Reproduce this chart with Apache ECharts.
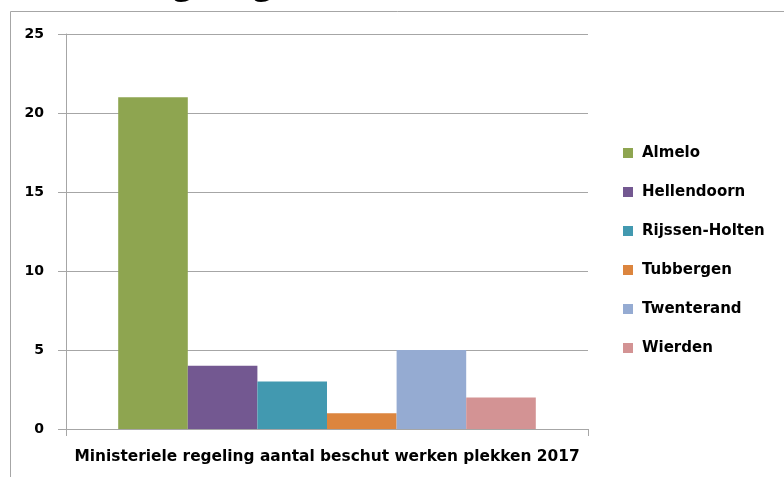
<!DOCTYPE html>
<html>
<head>
<meta charset="utf-8">
<script src="https://cdn.jsdelivr.net/npm/echarts@6/dist/echarts.min.js"></script>
<style>
  html, body { margin: 0; padding: 0; background: #fff; }
  #chart { width: 784px; height: 477px; }
</style>
</head>
<body>
<div id="chart"></div>
<script>
// --- data ---
const category = ['Ministeriele regeling aantal beschut werken plekken 2017'];
const gemeenten = ['Almelo', 'Hellendoorn', 'Rijssen-Holten', 'Tubbergen', 'Twenterand', 'Wierden'];
const plekken = [21, 4, 3, 1, 5, 2];
const kleuren = ['#8ea550', '#735891', '#4299b0', '#dc853e', '#95abd2', '#d39394'];

const gray = '#a6a6a6';

const chart = echarts.init(document.getElementById('chart'));

chart.setOption({
    animation: false,
    color: kleuren,
    grid: { left: 66, right: 196, top: 34, bottom: 48 },
    legend: {
        orient: 'vertical',
        left: 618,
        top: 138,
        itemWidth: 10,
        itemHeight: 10,
        itemGap: 19,
        icon: 'rect',
        data: gemeenten,
        textStyle: {
            fontFamily: 'DejaVu Sans', fontWeight: 'bold', fontSize: 15,
            color: '#000', lineHeight: 20, padding: [0, 0, 0, 4]
        }
    },
    xAxis: {
        type: 'category',
        data: category,
        axisLine: { lineStyle: { color: gray } },
        axisTick: { show: true, length: 7, lineStyle: { color: gray } },
        axisLabel: {
            margin: 20, color: '#000',
            fontFamily: 'DejaVu Sans', fontWeight: 'bold', fontSize: 15.4
        }
    },
    yAxis: {
        type: 'value',
        min: 0, max: 25, interval: 5,
        axisLine: { show: true, lineStyle: { color: gray } },
        axisTick: { show: true, length: 8, lineStyle: { color: gray } },
        splitLine: { lineStyle: { color: gray } },
        axisLabel: {
            margin: 22, color: '#000',
            fontFamily: 'DejaVu Sans', fontWeight: 'bold', fontSize: 14
        }
    },
    series: gemeenten.map((naam, i) => ({
        name: naam,
        type: 'bar',
        data: [plekken[i]],
        barGap: '0%',
        barCategoryGap: '20%'
    })),
    graphic: [
        // kader rond de grafiek
        { type: 'polyline', silent: true,
          shape: { points: [[10.5, 477], [10.5, 11.5], [784, 11.5]] },
          style: { stroke: gray, lineWidth: 1, fill: null } },
        // afgesneden titel bovenaan (alleen de onderkant is zichtbaar)
        { type: 'text', silent: true, left: -67, top: -32, z: -1,
          style: { text: 'Ministeriele regeling', fontFamily: 'Open Sans',
                   fontWeight: 'bold', fontSize: 33, fill: '#000' } }
    ]
});
</script>
</body>
</html>
